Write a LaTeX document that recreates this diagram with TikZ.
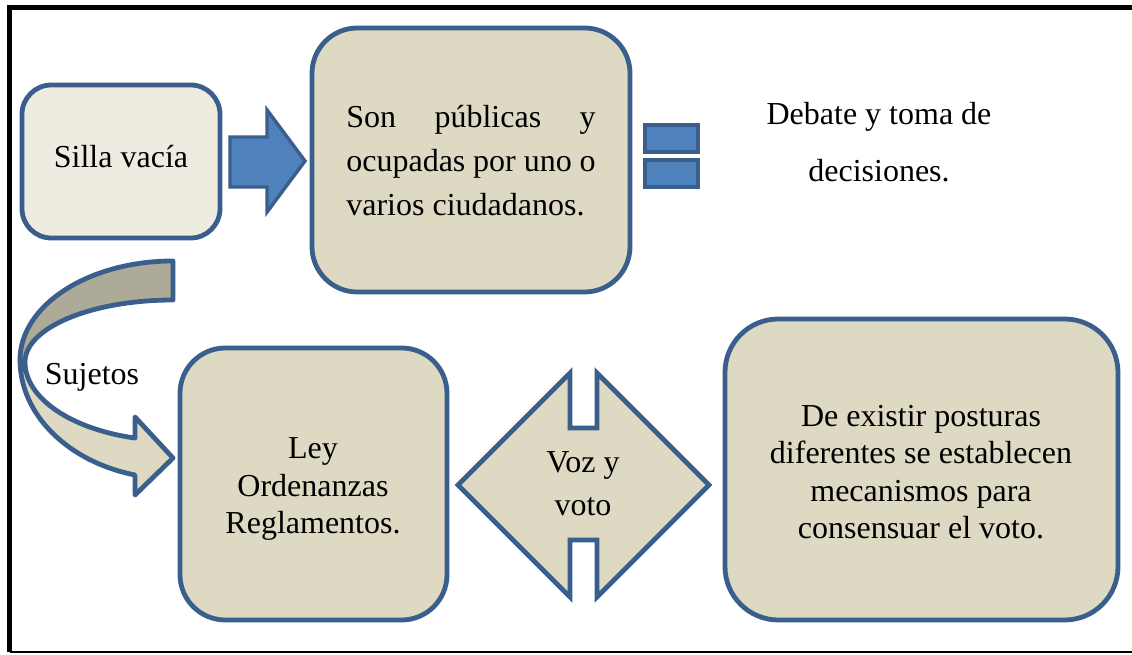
\documentclass[tikz,border=0pt]{standalone}
\usepackage{fontspec}
\setmainfont{Liberation Serif}
\definecolor{bordc}{HTML}{3A5F8C}
\definecolor{boxfill}{HTML}{DDD9C3}
\definecolor{lightfill}{HTML}{EEECE1}
\definecolor{blueA}{HTML}{4F81BD}
\definecolor{grayband}{HTML}{ADAA98}
\begin{document}
\begin{tikzpicture}[x=0.75pt,y=-0.75pt,
  panel/.style={draw=bordc,line width=3.6pt,fill=boxfill},
  txt/.style={font=\fontsize{24}{28}\selectfont,align=center,inner sep=0pt},
  shapeblue/.style={draw=bordc,line width=2.6pt,fill=blueA,line join=miter},
  curvband/.style={draw=bordc,line width=3.6pt,line join=round}]
\useasboundingbox (0,0) rectangle (1132,655);
\fill[white] (0,0) rectangle (1132,655);
% frame
\draw[line width=3.4pt] (9.5,652) -- (9.5,7.5) -- (1140,7.5);
\draw[line width=1.6pt] (9.5,652) -- (1140,652);

% box 1
\draw[panel,fill=lightfill,rounded corners=22pt] (22,85) rectangle (220,238);
\node[txt] (silla) at (121,157) {Silla vacía};

% right arrow
\draw[shapeblue] (230,137) -- (267,137) -- (267,110) -- (305,161) -- (267,212) -- (267,187) -- (230,187) -- cycle;

% box 2
\draw[panel,rounded corners=34pt] (312,28) rectangle (630,292);
\node[inner sep=0pt] (pub) at (471,160.5) {\parbox{187pt}{\fontsize{24}{33}\selectfont Son públicas y\linebreak ocupadas por uno o\linebreak varios ciudadanos.}};

% equal sign
\draw[shapeblue] (645,125) rectangle (698,152);
\draw[shapeblue] (645,160) rectangle (698,187);

% debate text
\node[txt,font=\fontsize{24}{43}\selectfont] (debate) at (879,142) {Debate y toma de\\decisiones.};

% curved arrow
\draw[curvband,fill=boxfill] (25,362) arc[start angle=180,end angle=104.9,x radius=148,y radius=78.7]
  -- (135,417) -- (173,458) -- (135,495) -- (135,475)
  arc[start angle=104.4,end angle=180,x radius=153,y radius=118.7] -- cycle;
\draw[curvband,fill=grayband] (173,261) arc[start angle=-90,end angle=-180,x radius=153,y radius=99]
  -- (25,362) arc[start angle=180,end angle=270,x radius=148,y radius=62] -- cycle;
\node[txt] (sujetos) at (92,377) {Sujetos};

% box 3
\draw[panel,rounded corners=34pt] (180,348) rectangle (447,620);
\node[txt] (ley) at (313,489) {Ley\\Ordenanzas\\Reglamentos.};

% double arrow
\draw[panel,line join=miter] (458,485) -- (570,373) -- (570,428) -- (597,428) -- (597,373) -- (709,485)
  -- (597,597) -- (597,540) -- (570,540) -- (570,597) -- cycle;
\node[txt,font=\fontsize{24}{32}\selectfont] (voz) at (583,484) {Voz y\\voto};

% box 4
\draw[panel,rounded corners=40pt] (725,319) rectangle (1118,620);
\node[txt] (postura) at (921,472) {De existir posturas\\diferentes se establecen\\mecanismos para\\consensuar el voto.};
\end{tikzpicture}
\end{document}
